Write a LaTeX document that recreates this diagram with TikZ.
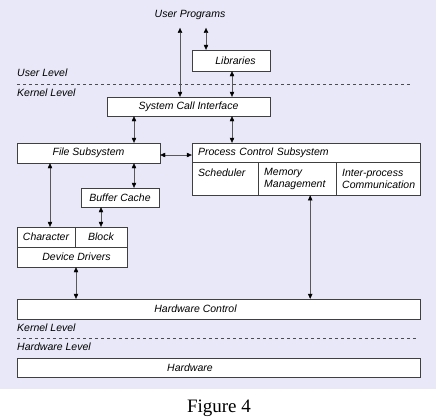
\documentclass[tikz,border=0pt]{standalone}
\usepackage{fontspec}
\setmainfont{Liberation Serif}
\setsansfont{Liberation Sans}
\usetikzlibrary{arrows.meta}
\definecolor{panel}{RGB}{232,232,248}
\tikzset{
	box/.style={draw=black!75, fill=white, inner sep=0pt, font=\sffamily\itshape\fontsize{10.5}{12}\selectfont},
	cell/.style={box, anchor=north west, align=left, minimum height=33pt, inner xsep=6pt, inner ysep=4pt},
	lbl/.style={font=\sffamily\itshape\fontsize{10.5}{12}\selectfont, inner sep=0pt},
	arr/.style={draw=black!65, {Triangle[length=5pt,width=4.5pt,black]}-{Triangle[length=5pt,width=4.5pt,black]}},
}
\begin{document}
\begin{tikzpicture}[x=1pt,y=-1pt]
	\useasboundingbox (0,0) rectangle (436,418);
	\fill[panel] (0,0) rectangle (436,389);

	% user level
	\node[lbl] (prog) at (190,15) {User Programs};
	\node[box, minimum width=78pt, minimum height=21pt] (lib) at (231,60.5) {\hspace*{9pt}Libraries};
	\node[lbl, anchor=west] (ulev) at (17,73) {User Level};
	\draw[dashed, black!70] (17,84) -- (412,84);
	\node[lbl, anchor=west] (klev) at (17,93) {Kernel Level};

	% kernel level
	\node[box, minimum width=163pt, minimum height=19pt] (sci) at (188.5,106.5) {System Call Interface};
	\node[box, minimum width=143pt, minimum height=20pt] (fs) at (88.5,153) {File Subsystem};
	\node[box, minimum width=228pt, minimum height=19pt, text width=216pt, align=left] (pcs) at (306,152.5) {Process Control Subsystem};
	\node[cell, minimum width=66pt, text width=54pt] (sched) at (192,162) {Scheduler\\\phantom{M}};
	\node[cell, minimum width=78pt, text width=66pt] (mem) at (258,162) {Memory\\Management};
	\node[cell, minimum width=84pt, text width=78pt, inner xsep=3pt] (ipc) at (336,162) {\hspace*{3pt}Inter-process\\\hspace*{3pt}Communication};
	\node[box, minimum width=78pt, minimum height=19pt] (bc) at (120,197.5) {Buffer Cache};
	\node[box, minimum width=58pt, minimum height=20pt] (chr) at (46,237) {Character};
	\node[box, minimum width=52pt, minimum height=20pt] (blk) at (101,237) {Block};
	\node[box, minimum width=110pt, minimum height=20pt] (dd) at (72,257) {\hspace*{9pt}Device Drivers};
	\node[box, minimum width=403pt, minimum height=20pt] (hc) at (218.5,309) {\hspace*{-46pt}Hardware Control};

	% hardware level
	\node[lbl, anchor=west] (klev2) at (17,328) {Kernel Level};
	\draw[dashed, black!70] (17,338) -- (418,338);
	\node[lbl, anchor=west] (hlev) at (17,347) {Hardware Level};
	\node[box, minimum width=403pt, minimum height=19pt] (hw) at (218.5,367.5) {\hspace*{-57pt}Hardware};

	\node[font=\rmfamily\fontsize{19}{21}\selectfont, inner sep=0pt, anchor=base] (cap) at (219,412) {Figure 4};

	% connectors
	\draw[arr] ([xshift=-10pt,yshift=-8pt]prog.south) -- ([xshift=-10pt]prog.south |- sci.north);
	\draw[arr] ([xshift=16pt,yshift=-8pt]prog.south) -- ([xshift=16pt]prog.south |- lib.north);
	\draw[arr] ([xshift=1pt]lib.south) -- ([xshift=1pt]lib.south |- sci.north);
	\draw[arr] (134,116) coordinate (s1) (s1 |- sci.south) -- (s1 |- fs.north);
	\draw[arr] ([xshift=1pt]lib.south |- sci.south) -- ([xshift=1pt]lib.south |- pcs.north);
	\draw[arr] ([yshift=-2pt]fs.east) -- ([yshift=-2pt]fs.east -| pcs.west);
	\draw[arr] (chr.north |- fs.south) ++(4pt,0) coordinate (s2) -- (s2 |- chr.north);
	\draw[arr] (s1 |- fs.south) -- (s1 |- bc.north);
	\draw[arr] (blk.north |- bc.south) -- (blk.north);
	\draw[arr] ([xshift=4pt]dd.south) -- ([xshift=4pt]dd.south |- hc.north);
	\draw[arr] ([xshift=13pt]mem.south) -- ([xshift=13pt]mem.south |- hc.north);
\end{tikzpicture}
\end{document}
